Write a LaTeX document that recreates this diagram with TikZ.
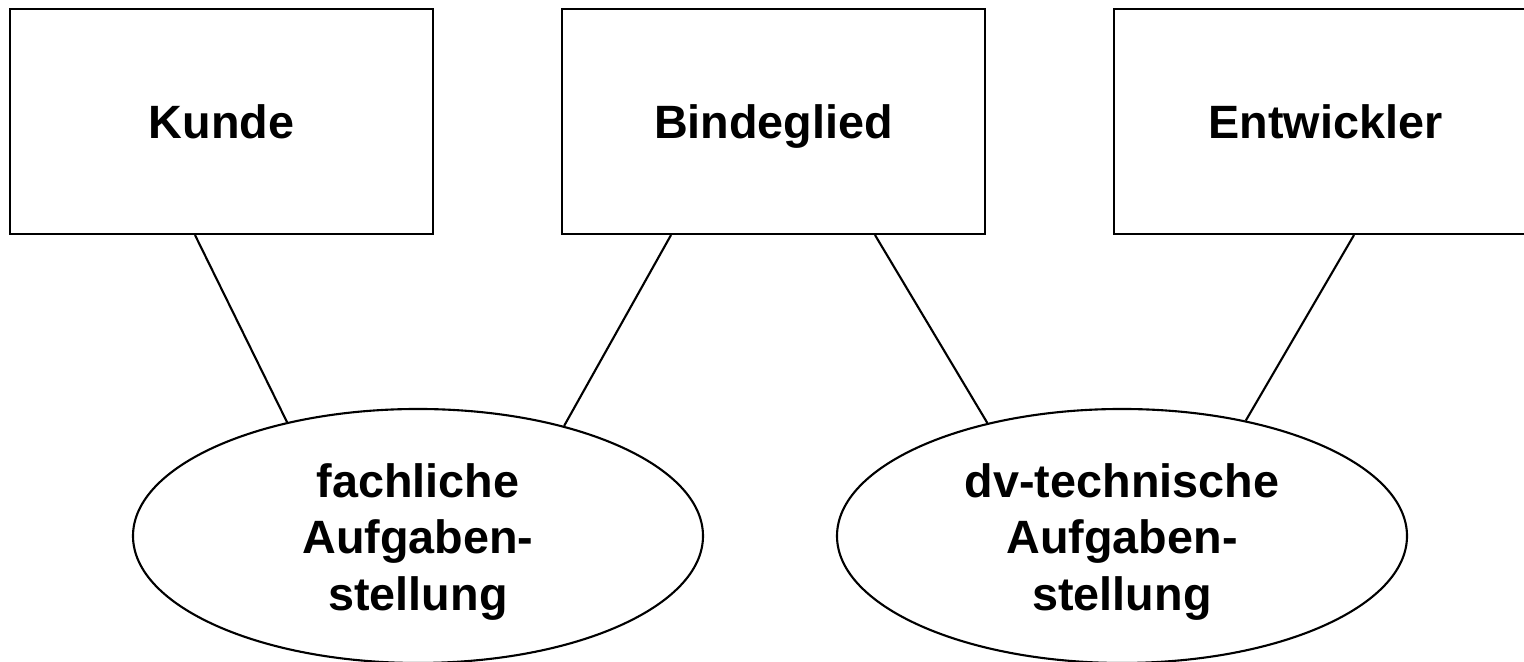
\documentclass[tikz,border=0pt]{standalone}
\usepackage{fontspec}
\setmainfont{Liberation Sans}
\usetikzlibrary{shapes.geometric}

\begin{document}
\begin{tikzpicture}[
        rolle/.style={draw,line width=0.6pt,minimum width=4.23cm,minimum height=2.25cm,
            inner sep=0pt,text depth=0pt,font=\fontsize{13.3}{16}\selectfont\bfseries},
        aufgabe/.style={draw,ellipse,line width=0.6pt,minimum width=5.70cm,
            minimum height=2.54cm,inner sep=0pt},
        aufgabentext/.style={align=center,inner sep=0pt,font=\fontsize{13.3}{16}\selectfont\bfseries},
        verbindung/.style={line width=0.6pt}
    ]
        \useasboundingbox (0,0) rectangle (15.24,6.62);

        % roles
        \node[rolle] (kunde) at (2.215,5.405) {Kunde};
        \node[rolle] (binde) at (7.735,5.405) {Bindeglied};
        \node[rolle] (entw) at (13.255,5.405) {Entwickler};

        % tasks
        \node[aufgabe] (fach) at (4.18,1.26) {};
        \node[aufgabe] (dv) at (11.22,1.26) {};
        \node[aufgabentext] (fachtext) at ([yshift=-0.06cm]fach.center) {fachliche\\Aufgaben-\\stellung};
        \node[aufgabentext] (dvtext) at ([yshift=-0.06cm]dv.center) {dv-technische\\Aufgaben-\\stellung};

        % connections
        \draw[verbindung] ([xshift=-0.265cm]kunde.south) -- (fach.139.7);
        \draw[verbindung] ([xshift=-1.025cm]binde.south) -- (fach.37.6);
        \draw[verbindung] ([xshift=1.015cm]binde.south) -- (dv.140.7);
        \draw[verbindung] ([xshift=0.285cm]entw.south) -- (dv.43.3);

    \end{tikzpicture}
\end{document}
